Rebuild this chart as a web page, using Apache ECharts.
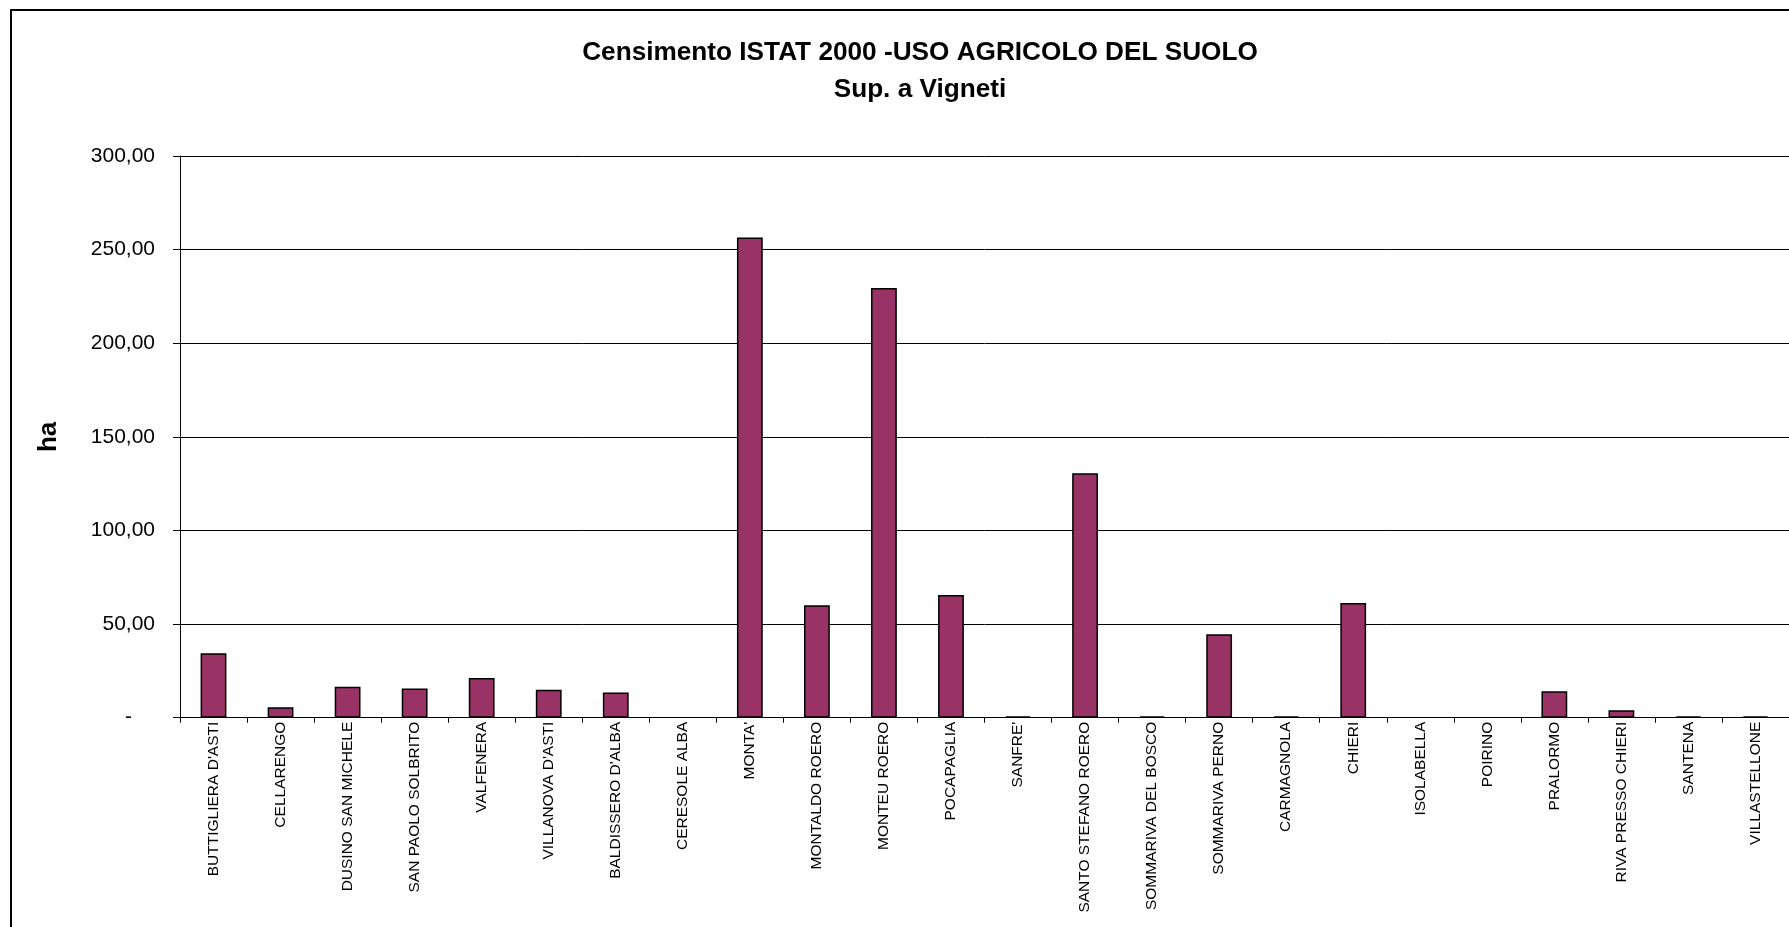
<!DOCTYPE html>
<html>
<head>
<meta charset="utf-8">
<style>
  html, body { margin: 0; padding: 0; background: #fff; }
  #chart { width: 1789px; height: 927px; }
</style>
<script src="https://cdn.jsdelivr.net/npm/echarts@6/dist/echarts.min.js"></script>
</head>
<body>
<div id="chart"></div>
<script>
// ---- Data ----
const titleLine1 = 'Censimento ISTAT 2000 -USO AGRICOLO DEL SUOLO';
const titleLine2 = 'Sup. a Vigneti';
const yAxisName = 'ha';
const categories = [
  "BUTTIGLIERA D'ASTI", 'CELLARENGO', 'DUSINO SAN MICHELE', 'SAN PAOLO SOLBRITO',
  'VALFENERA', "VILLANOVA D'ASTI", "BALDISSERO D'ALBA", 'CERESOLE ALBA',
  "MONTA'", 'MONTALDO ROERO', 'MONTEU ROERO', 'POCAPAGLIA', "SANFRE'",
  'SANTO STEFANO ROERO', 'SOMMARIVA DEL BOSCO', 'SOMMARIVA PERNO', 'CARMAGNOLA',
  'CHIERI', 'ISOLABELLA', 'POIRINO', 'PRALORMO', 'RIVA PRESSO CHIERI',
  'SANTENA', 'VILLASTELLONE'
];
const vigneti = [
  34.4, 5.6, 16.5, 15.6,
  21.2, 14.9, 13.4, 0,
  256.5, 60.1, 229.5, 65.5, 0.8,
  130.6, 0.8, 44.6, 0.7,
  61.3, 0, 0, 14.1, 4.0,
  0.8, 0.8
];
const yMin = 0, yMax = 300, yStep = 50;

const FONT = "'Liberation Sans', Arial, sans-serif";

const chart = echarts.init(document.getElementById('chart'), null, { renderer: 'canvas' });
chart.setOption({
  backgroundColor: '#ffffff',
  animation: false,
  title: {
    text: titleLine1 + '\n' + titleLine2,
    left: 915,
    top: 29,
    textAlign: 'center',
    textStyle: {
      fontFamily: FONT,
      fontSize: 26.2,
      fontWeight: 'bold',
      color: '#000',
      lineHeight: 37.3
    }
  },
  graphic: [{
    type: 'rect',
    silent: true,
    z: -1,
    shape: { x: 11, y: 10, width: 1900, height: 1000 },
    style: { fill: 'none', stroke: '#000', lineWidth: 2 }
  }],
  grid: {
    left: 180,
    top: 156,
    bottom: 927 - 717.7,
    right: 1789 - (180 + 24 * 67.6),
    containLabel: false
  },
  xAxis: {
    type: 'category',
    data: categories,
    axisLine: { show: true, lineStyle: { color: '#000', width: 1 } },
    axisTick: { show: true, length: 5, lineStyle: { color: '#000' } },
    axisLabel: {
      interval: 0,
      rotate: 90,
      margin: 4,
      fontFamily: FONT,
      fontSize: 15.5,
      color: '#000'
    },
    splitLine: { show: false }
  },
  yAxis: {
    type: 'value',
    min: yMin,
    max: yMax,
    interval: yStep,
    name: yAxisName,
    nameLocation: 'middle',
    nameGap: 118,
    nameTextStyle: {
      fontFamily: FONT,
      fontSize: 26,
      fontWeight: 'bold',
      color: '#000'
    },
    axisLine: { show: true, lineStyle: { color: '#000', width: 1 } },
    axisTick: { show: true, length: 7, lineStyle: { color: '#000' } },
    axisLabel: {
      margin: 25,
      fontFamily: FONT,
      fontSize: 21,
      color: '#000',
      formatter: function (v) {
        if (v === 0) return '{z|-}';
        return v.toFixed(2).replace('.', ',');
      },
      rich: {
        z: { width: 30, align: 'left', fontFamily: FONT, fontSize: 21, color: '#000' }
      }
    },
    splitLine: { show: true, lineStyle: { color: '#000', width: 1 } }
  },
  series: [{
    type: 'bar',
    data: vigneti.map(function (v) {
      return v === 0 ? { value: v, itemStyle: { borderWidth: 0 } } : v;
    }),
    barWidth: '38.5%',
    itemStyle: {
      color: '#993366',
      borderColor: '#000',
      borderWidth: 1.5
    }
  }]
});
</script>
</body>
</html>
